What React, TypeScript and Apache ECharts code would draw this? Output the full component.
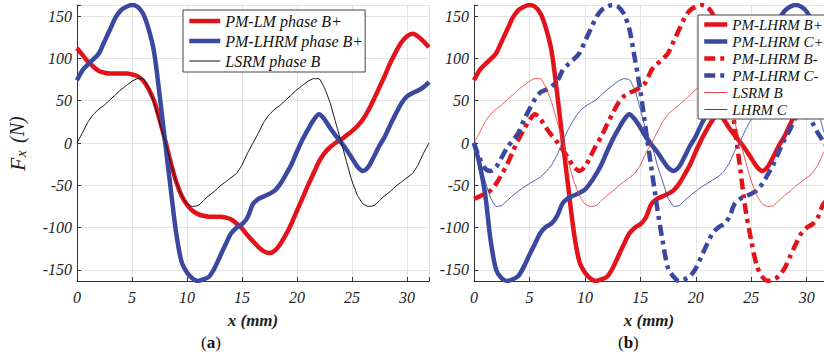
import React, { useEffect, useRef } from 'react';
import * as echarts from 'echarts';

// x positions (mm)
const xs = [
  0, 0.5, 1, 1.5, 2, 2.5, 3, 3.5, 4, 4.5, 5, 5.5, 6, 6.5, 7, 7.5, 8, 8.5, 9, 9.5,
  10, 10.5, 11, 11.5, 12, 12.5, 13, 13.5, 14, 14.5, 15, 15.5, 16, 16.5, 17, 17.5, 18, 18.5, 19, 19.5,
  20, 20.5, 21, 21.5, 22, 22.5, 23, 23.5, 24, 24.5, 25, 25.5, 26, 26.5, 27, 27.5, 28, 28.5, 29, 29.5,
  30, 30.5, 31, 31.5, 32,
];

// (a) PM-LM phase B+
const pmLmB = [
  112, 104, 96, 90, 85, 83, 82, 82, 82, 82, 81, 79, 74, 64, 50, 28, 4, -22, -45, -62,
  -73, -80, -84, -86, -87, -87, -87, -88, -90, -95, -101, -109, -116, -123, -128, -130, -127, -119, -108, -95,
  -80, -65, -50, -36, -22, -12, -5, 0, 4, 9, 14, 20, 28, 39, 52, 66, 80, 95, 108, 119,
  126, 129, 126, 120, 113,
];

// PM-LHRM phase B+ (used in (a) and (b))
const lhrmBPlus = [
  74, 86, 93, 99, 106, 120, 134, 148, 157, 161, 163, 161, 153, 135, 108, 58, 2, -52, -105, -140,
  -153, -160, -163, -161, -158, -148, -134, -120, -107, -100, -96, -88, -72, -66, -63, -60, -56, -48, -37, -25,
  -10, 4, 16, 27, 34, 28, 18, 9, 1, -8, -18, -28, -33, -28, -16, -3, 8, 22, 35, 47,
  55, 59, 62, 66, 72,
];

// LSRM phase B (used in (a) and (b))
const lsrmB = [
  0, 12, 25, 34, 40, 45, 51, 57, 63, 68, 73, 76, 76, 65, 48, 25, 2, -22, -45, -62,
  -72, -75, -74, -68, -62, -57, -51, -46, -41, -36, -26, -12, 0, 12, 25, 34, 40, 45, 51, 57,
  63, 68, 73, 76, 76, 65, 48, 25, 2, -22, -45, -62, -72, -75, -74, -68, -62, -57, -51, -46,
  -41, -36, -26, -12, 0,
];

// (b) PM-LHRM C+
const lhrmCPlus = [
  0, -25, -60, -115, -150, -160, -163, -161, -157, -146, -132, -119, -106, -99, -95, -86, -71, -65, -62, -59,
  -55, -47, -37, -25, -10, 4, 16, 27, 34, 28, 18, 7, -2, -10, -20, -29, -33, -28, -16, -3,
  8, 22, 35, 47, 55, 59, 62, 66, 72, 84, 92, 98, 105, 118, 132, 146, 156, 161, 163, 161,
  155, 143, 125, 100, 70,
];

// (b) PM-LHRM B-
const lhrmBMinus = [
  -66, -63, -60, -56, -48, -37, -25, -10, 4, 16, 27, 34, 28, 18, 9, 1, -8, -18, -28, -33,
  -28, -16, -3, 8, 22, 35, 47, 55, 59, 62, 66, 72, 86, 93, 99, 106, 120, 134, 148, 157,
  161, 163, 161, 153, 137, 112, 70, 20, -30, -80, -115, -145, -158, -163, -161, -157, -148, -134, -120, -107,
  -100, -96, -88, -72, -66,
];

// (b) PM-LHRM C-
const lhrmCMinus = [
  0, -18, -30, -33, -28, -17, -5, 3, 12, 27, 40, 52, 60, 63, 67, 73, 86, 93, 99, 106,
  120, 134, 148, 157, 161, 163, 161, 153, 135, 100, 62, 15, -30, -75, -115, -148, -158, -163, -161, -157,
  -148, -134, -120, -107, -100, -96, -88, -72, -66, -63, -60, -56, -48, -37, -25, -10, 4, 16, 30, 35,
  33, 24, 12, 2, -8,
];

// (b) LHRM C
const lhrmC = [
  0, -22, -45, -65, -75, -74, -68, -62, -57, -52, -48, -44, -40, -34, -26, -14, 2, 16, 28, 37,
  43, 47, 51, 57, 63, 68, 73, 76, 75, 63, 40, 15, 0, -25, -45, -65, -75, -74, -68, -62,
  -57, -52, -48, -44, -40, -34, -24, -10, 2, 16, 28, 37, 43, 47, 51, 57, 63, 68, 73, 76,
  75, 63, 40, 15, 0,
];

const yTicks = [-150, -100, -50, 0, 50, 100, 150];
const xTicks = [0, 5, 10, 15, 20, 25, 30];

const RED = '#e3131c';
const BLUE = '#3a489f';
const THIN_RED = '#ea4448';
const FONT = '"Liberation Serif", "Times New Roman", serif';

const pairs = (ys: number[]) => ys.map((y, i) => [xs[i], y]);

export default function App() {
  const ref = useRef<HTMLDivElement>(null);
  useEffect(() => {
    if (!ref.current) return;
    const chart = echarts.init(ref.current, null, { renderer: 'svg' });

    const yAxis = (gridIndex: number) => ({
      type: 'value',
      gridIndex,
      min: -163,
      max: 163,
      axisLine: { show: true, lineStyle: { color: '#333', width: 1 } },
      axisTick: { show: true, inside: true, length: 4, lineStyle: { color: '#333' } },
      axisLabel: {
        fontFamily: FONT,
        fontStyle: 'italic',
        fontSize: 16,
        color: '#222',
        margin: 5,
        formatter: (v: number) => (yTicks.includes(v) ? String(v) : ''),
      },
      splitLine: { show: true, lineStyle: { color: '#e4e4e4', width: 1 } },
    });
    const xAxis = (gridIndex: number, max: number) => ({
      type: 'value',
      gridIndex,
      min: 0,
      max,
      interval: 5,
      axisLine: { show: true, onZero: false, lineStyle: { color: '#333', width: 1 } },
      axisTick: { show: true, inside: true, length: 4, lineStyle: { color: '#333' } },
      axisLabel: {
        fontFamily: FONT,
        fontStyle: 'italic',
        fontSize: 16,
        color: '#222',
        margin: 8,
        formatter: (v: number) => (xTicks.includes(v) ? String(v) : ''),
      },
      splitLine: { show: true, lineStyle: { color: '#e4e4e4', width: 1 } },
      name: 'x (mm)',
      nameLocation: 'middle',
      nameGap: 31,
      nameTextStyle: { fontFamily: FONT, fontStyle: 'italic', fontWeight: 'bold', fontSize: 17, color: '#222' },
    });

    const line = (name: string, data: number[], idx: number, color: string, width: number, type: any = 'solid', smooth = 0.3) => ({
      type: 'line',
      name,
      xAxisIndex: idx,
      yAxisIndex: idx,
      data: pairs(data),
      symbol: 'none',
      showSymbol: false,
      smooth,
      lineStyle: { color, width, type },
      itemStyle: { color },
    });

    const dash = [11, 5, 4, 5];

    const legendCommon = {
      orient: 'vertical',
      selectedMode: false,
      backgroundColor: '#fff',
      borderColor: '#444',
      borderWidth: 1,
      borderRadius: 0,
      itemStyle: { opacity: 0 },
      lineStyle: { width: 'inherit', type: 'inherit' },
    };

    chart.setOption({
      animation: false,
      backgroundColor: '#fff',
      grid: [
        { left: 77, top: 5, width: 352, height: 276, containLabel: false, outerBoundsMode: 'none' },
        { left: 474, top: 5, width: 350, height: 276, containLabel: false, outerBoundsMode: 'none' },
      ],
      xAxis: [xAxis(0, 32), xAxis(1, 31.56)],
      yAxis: [yAxis(0), yAxis(1)],
      legend: [
        {
          ...legendCommon,
          left: 183,
          top: 10,
          itemWidth: 31,
          itemHeight: 14,
          itemGap: 4,
          padding: [3, 2, 3, 4],
          textStyle: { fontFamily: FONT, fontStyle: 'italic', fontSize: 16, color: '#111' },
          data: [
            'PM-LM phase B+',
            'PM-LHRM phase B+',
            { name: 'LSRM phase B', lineStyle: { color: '#111', width: 1 } },
          ],
        },
        {
          ...legendCommon,
          left: 698,
          top: 15,
          itemWidth: 23,
          itemHeight: 14,
          itemGap: 2,
          padding: [2, 3, 2, 4],
          textStyle: { fontFamily: FONT, fontStyle: 'italic', fontSize: 15, color: '#111' },
          data: [
            'PM-LHRM B+',
            'PM-LHRM C+',
            'PM-LHRM B-',
            'PM-LHRM C-',
            { name: 'LSRM B', lineStyle: { color: THIN_RED, width: 1 } },
            { name: 'LHRM C', lineStyle: { color: BLUE, width: 1 } },
          ],
        },
      ],
      series: [
        line('PM-LM phase B+', pmLmB, 0, RED, 4.5),
        line('PM-LHRM phase B+', lhrmBPlus, 0, BLUE, 4.5),
        line('LSRM phase B', lsrmB, 0, '#111', 1, 'solid', 0.1),
        line('PM-LHRM B+', lhrmBPlus, 1, RED, 4.5),
        line('PM-LHRM C+', lhrmCPlus, 1, BLUE, 4.5),
        line('PM-LHRM B-', lhrmBMinus, 1, RED, 4.5, dash),
        line('PM-LHRM C-', lhrmCMinus, 1, BLUE, 4.5, dash),
        line('LSRM B', lsrmB, 1, THIN_RED, 0.9, 'solid', 0.1),
        line('LHRM C', lhrmC, 1, BLUE, 0.9, 'solid', 0.1),
      ],
      graphic: [
        {
          type: 'group',
          x: 17,
          y: 171,
          rotation: Math.PI / 2,
          children: [
            { type: 'text', x: 0, y: 0, style: { text: 'F', font: `italic 22px ${FONT}`, fill: '#222', verticalAlign: 'middle', align: 'left' } },
            { type: 'text', x: 14, y: 4, style: { text: 'x', font: `italic 15px ${FONT}`, fill: '#222', verticalAlign: 'middle', align: 'left' } },
            { type: 'text', x: 28, y: 0, style: { text: '(N)', font: `italic 20px ${FONT}`, fill: '#222', verticalAlign: 'middle', align: 'left' } },
          ],
        },
        {
          type: 'text',
          left: 201,
          top: 334,
          style: {
            text: '({b|a})',
            font: `17px ${FONT}`,
            fill: '#111',
            rich: { b: { fontFamily: FONT, fontWeight: 'bold', fontSize: 17, fill: '#111' } },
          },
        },
        {
          type: 'text',
          left: 618,
          top: 334,
          style: {
            text: '({b|b})',
            font: `17px ${FONT}`,
            fill: '#111',
            rich: { b: { fontFamily: FONT, fontWeight: 'bold', fontSize: 17, fill: '#111' } },
          },
        },
      ],
    });
    return () => chart.dispose();
  }, []);
  return (
    <div
      ref={ref}
      style={{ position: 'fixed', left: 0, top: 0, width: 824, height: 354, background: '#fff' }}
    />
  );
}
